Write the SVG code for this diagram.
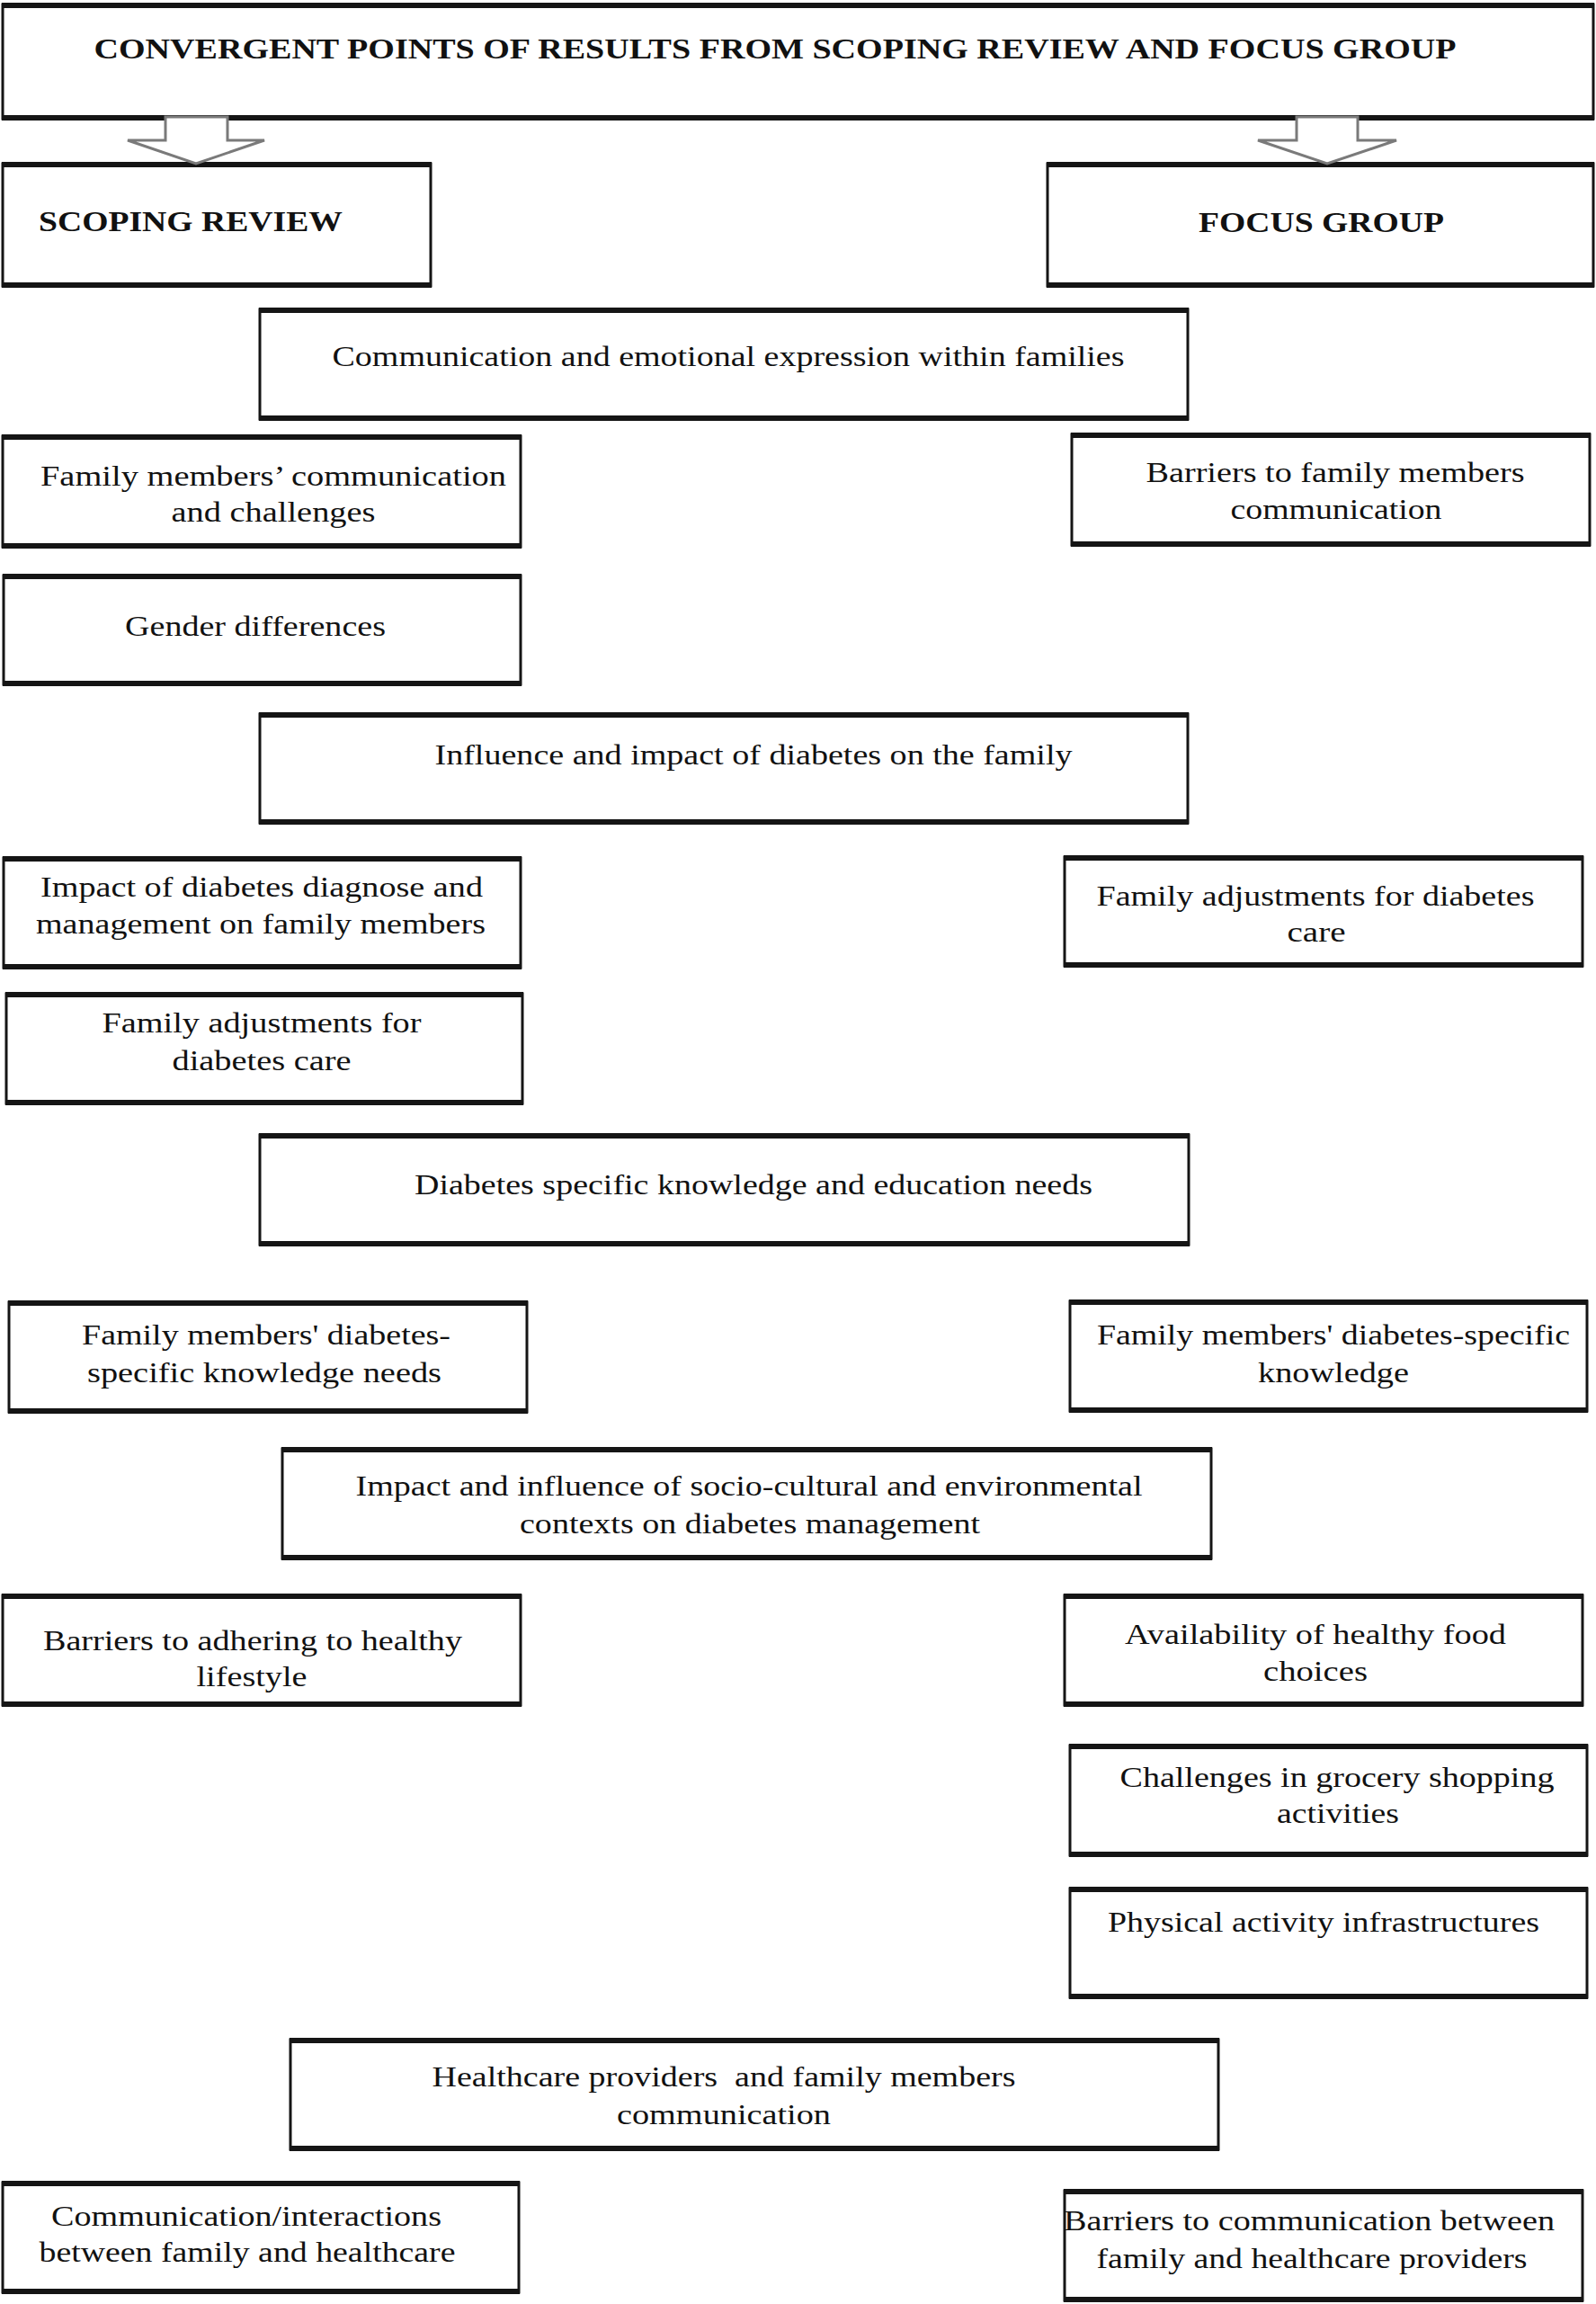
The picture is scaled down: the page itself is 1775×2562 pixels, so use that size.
<svg xmlns="http://www.w3.org/2000/svg" width="1775" height="2562" viewBox="0 0 1775 2562">
<style>
.box{fill:#fff;stroke:#151515;stroke-width:3}
.edge{stroke:#151515;stroke-width:6;fill:none}
.t{font-family:"Liberation Serif","Times New Roman",serif;font-size:32px;fill:#111;text-anchor:middle}
.h{font-family:"Liberation Serif","Times New Roman",serif;font-size:32px;font-weight:bold;fill:#111}
.arrow{fill:#fff;stroke:#7a7a7a;stroke-width:3;stroke-linejoin:miter}
</style>
<rect width="1775" height="2562" fill="#fff"/>
<g id="title">
<rect class="box" x="3" y="5" width="1769" height="127"/>
<path class="edge" d="M2 6H1773M2 131H1773"/>
<text class="h" x="862" y="65" text-anchor="middle" textLength="1515" lengthAdjust="spacingAndGlyphs">CONVERGENT POINTS OF RESULTS FROM SCOPING REVIEW AND FOCUS GROUP</text>
</g>
<g id="scoping-review">
<rect class="box" x="3" y="182" width="476" height="136"/>
<path class="edge" d="M2 183H480M2 317H480"/>
<text class="h" x="43" y="257" textLength="338" lengthAdjust="spacingAndGlyphs">SCOPING REVIEW</text>
</g>
<g id="focus-group">
<rect class="box" x="1165" y="182" width="607" height="136"/>
<path class="edge" d="M1164 183H1773M1164 317H1773"/>
<text class="h" x="1333" y="258" textLength="273" lengthAdjust="spacingAndGlyphs">FOCUS GROUP</text>
</g>
<g id="communication-emotional">
<rect class="box" x="289" y="344" width="1032" height="122"/>
<path class="edge" d="M288 345H1322M288 465H1322"/>
<text class="t" x="810" y="407" textLength="881" lengthAdjust="spacingAndGlyphs">Communication and emotional expression within families</text>
</g>
<g id="family-communication">
<rect class="box" x="3" y="485" width="576" height="123"/>
<path class="edge" d="M2 486H580M2 607H580"/>
<text class="t" x="304" y="540" textLength="518" lengthAdjust="spacingAndGlyphs">Family members’ communication</text>
<text class="t" x="304" y="580" textLength="227" lengthAdjust="spacingAndGlyphs">and challenges</text>
</g>
<g id="barriers-family-communication">
<rect class="box" x="1192" y="483" width="576" height="123"/>
<path class="edge" d="M1191 484H1769M1191 605H1769"/>
<text class="t" x="1485" y="536" textLength="421" lengthAdjust="spacingAndGlyphs">Barriers to family members</text>
<text class="t" x="1486" y="577" textLength="235" lengthAdjust="spacingAndGlyphs">communication</text>
</g>
<g id="gender-differences">
<rect class="box" x="4" y="640" width="575" height="121"/>
<path class="edge" d="M3 641H580M3 760H580"/>
<text class="t" x="284" y="707" textLength="290" lengthAdjust="spacingAndGlyphs">Gender differences</text>
</g>
<g id="influence-impact">
<rect class="box" x="289" y="794" width="1032" height="121"/>
<path class="edge" d="M288 795H1322M288 914H1322"/>
<text class="t" x="838" y="850" textLength="709" lengthAdjust="spacingAndGlyphs">Influence and impact of diabetes on the family</text>
</g>
<g id="impact-diagnose">
<rect class="box" x="4" y="954" width="575" height="122"/>
<path class="edge" d="M3 955H580M3 1075H580"/>
<text class="t" x="291" y="997" textLength="492" lengthAdjust="spacingAndGlyphs">Impact of diabetes diagnose and</text>
<text class="t" x="290" y="1038" textLength="500" lengthAdjust="spacingAndGlyphs">management on family members</text>
</g>
<g id="family-adjustments-fg">
<rect class="box" x="1184" y="953" width="576" height="121"/>
<path class="edge" d="M1183 954H1761M1183 1073H1761"/>
<text class="t" x="1463" y="1007" textLength="487" lengthAdjust="spacingAndGlyphs">Family adjustments for diabetes</text>
<text class="t" x="1464" y="1047" textLength="65" lengthAdjust="spacingAndGlyphs">care</text>
</g>
<g id="family-adjustments-sr">
<rect class="box" x="7" y="1105" width="574" height="122"/>
<path class="edge" d="M6 1106H582M6 1226H582"/>
<text class="t" x="291" y="1148" textLength="355" lengthAdjust="spacingAndGlyphs">Family adjustments for</text>
<text class="t" x="291" y="1190" textLength="199" lengthAdjust="spacingAndGlyphs">diabetes care</text>
</g>
<g id="diabetes-knowledge">
<rect class="box" x="289" y="1262" width="1033" height="122"/>
<path class="edge" d="M288 1263H1323M288 1383H1323"/>
<text class="t" x="838" y="1328" textLength="754" lengthAdjust="spacingAndGlyphs">Diabetes specific knowledge and education needs</text>
</g>
<g id="knowledge-needs-sr">
<rect class="box" x="10" y="1448" width="576" height="122"/>
<path class="edge" d="M9 1449H587M9 1569H587"/>
<text class="t" x="296" y="1495" textLength="410" lengthAdjust="spacingAndGlyphs">Family members' diabetes-</text>
<text class="t" x="294" y="1537" textLength="394" lengthAdjust="spacingAndGlyphs">specific knowledge needs</text>
</g>
<g id="knowledge-fg">
<rect class="box" x="1190" y="1447" width="575" height="122"/>
<path class="edge" d="M1189 1448H1766M1189 1568H1766"/>
<text class="t" x="1483" y="1495" textLength="526" lengthAdjust="spacingAndGlyphs">Family members' diabetes-specific</text>
<text class="t" x="1483" y="1537" textLength="168" lengthAdjust="spacingAndGlyphs">knowledge</text>
</g>
<g id="socio-cultural">
<rect class="box" x="314" y="1611" width="1033" height="122"/>
<path class="edge" d="M313 1612H1348M313 1732H1348"/>
<text class="t" x="833" y="1663" textLength="875" lengthAdjust="spacingAndGlyphs">Impact and influence of socio-cultural and environmental</text>
<text class="t" x="834" y="1705" textLength="512" lengthAdjust="spacingAndGlyphs">contexts on diabetes management</text>
</g>
<g id="barriers-lifestyle">
<rect class="box" x="3" y="1774" width="576" height="122"/>
<path class="edge" d="M2 1775H580M2 1895H580"/>
<text class="t" x="281" y="1835" textLength="466" lengthAdjust="spacingAndGlyphs">Barriers to adhering to healthy</text>
<text class="t" x="280" y="1875" textLength="123" lengthAdjust="spacingAndGlyphs">lifestyle</text>
</g>
<g id="healthy-food">
<rect class="box" x="1184" y="1774" width="576" height="122"/>
<path class="edge" d="M1183 1775H1761M1183 1895H1761"/>
<text class="t" x="1463" y="1828" textLength="424" lengthAdjust="spacingAndGlyphs">Availability of healthy food</text>
<text class="t" x="1463" y="1869" textLength="116" lengthAdjust="spacingAndGlyphs">choices</text>
</g>
<g id="grocery-shopping">
<rect class="box" x="1190" y="1941" width="575" height="122"/>
<path class="edge" d="M1189 1942H1766M1189 2062H1766"/>
<text class="t" x="1487" y="1987" textLength="483" lengthAdjust="spacingAndGlyphs">Challenges in grocery shopping</text>
<text class="t" x="1488" y="2027" textLength="136" lengthAdjust="spacingAndGlyphs">activities</text>
</g>
<g id="physical-activity">
<rect class="box" x="1190" y="2100" width="575" height="121"/>
<path class="edge" d="M1189 2101H1766M1189 2220H1766"/>
<text class="t" x="1472" y="2148" textLength="480" lengthAdjust="spacingAndGlyphs">Physical activity infrastructures</text>
</g>
<g id="healthcare-communication">
<rect class="box" x="323" y="2268" width="1032" height="122"/>
<path class="edge" d="M322 2269H1356M322 2389H1356"/>
<text class="t" x="805" y="2320" textLength="649" lengthAdjust="spacingAndGlyphs" xml:space="preserve">Healthcare providers  and family members</text>
<text class="t" x="805" y="2362" textLength="238" lengthAdjust="spacingAndGlyphs">communication</text>
</g>
<g id="interactions-sr">
<rect class="box" x="3" y="2427" width="574" height="122"/>
<path class="edge" d="M2 2428H578M2 2548H578"/>
<text class="t" x="274" y="2475" textLength="434" lengthAdjust="spacingAndGlyphs">Communication/interactions</text>
<text class="t" x="275" y="2515" textLength="463" lengthAdjust="spacingAndGlyphs">between family and healthcare</text>
</g>
<g id="barriers-healthcare-fg">
<rect class="box" x="1184" y="2436" width="576" height="122"/>
<path class="edge" d="M1183 2437H1761M1183 2557H1761"/>
<text class="t" x="1456" y="2480" textLength="546" lengthAdjust="spacingAndGlyphs">Barriers to communication between</text>
<text class="t" x="1459" y="2522" textLength="479" lengthAdjust="spacingAndGlyphs">family and healthcare providers</text>
</g>
<g id="connectors">
<polygon class="arrow" points="184,130 253,130 253,156 294,156 218,182 142,156 184,156"/>
<polygon class="arrow" points="1442,130 1510,130 1510,156 1553,156 1476,182 1399,156 1442,156"/>
</g>
</svg>
